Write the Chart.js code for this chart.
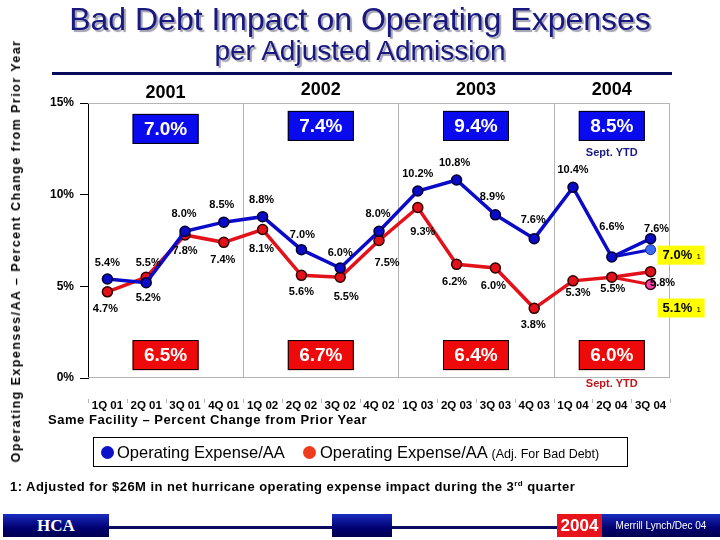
<!DOCTYPE html>
<html>
<head>
<meta charset="utf-8">
<script src="https://cdn.jsdelivr.net/npm/chart.js@4.4.1/dist/chart.umd.min.js"></script>
<style>
  body { margin: 0; background: #fff; }
  #wrap { position: relative; width: 720px; height: 540px; overflow: hidden; font-family: Arial, "Liberation Sans", sans-serif; }
  #chart { position: absolute; left: 0; top: 0; }
  .abs { position: absolute; white-space: nowrap; }
  #title { left: 0; width: 720px; top: 2px; text-align: center; font-size: 32px; line-height: 34px; color: #18187e; text-shadow: 2px 2px 1px #a0a0b0; }
  #subtitle { left: 0; width: 720px; top: 36px; text-align: center; font-size: 28px; line-height: 30px; color: #18187e; text-shadow: 2px 2px 1px #a0a0b0; }
  #rule { left: 52px; top: 72px; width: 620px; height: 3px; background: #0a0a5e; }
  #ytitle { left: 16px; top: 251px; transform: translate(-50%, -50%) rotate(-90deg); font-size: 12.5px; font-weight: bold; letter-spacing: 1.45px; }
  #facility { left: 48px; top: 412px; font-size: 13px; font-weight: bold; letter-spacing: 0.55px; }
  #legend { left: 93px; top: 437px; width: 533px; height: 28px; border: 1px solid #000; }
  .dot { position: absolute; top: 8px; width: 13px; height: 13px; border-radius: 50%; }
  .ltext { position: absolute; top: 5px; font-size: 16.5px; line-height: 18px; }
  #foot { left: 10px; top: 479px; font-size: 13px; font-weight: bold; letter-spacing: 0.45px; }
  #foot sup { font-size: 8px; }
  .bar { position: absolute; top: 514px; height: 23px; background: linear-gradient(#1a2cc0, #000070 60%, #000050); }
  .fline { position: absolute; top: 526px; height: 3px; background: #0a0a5e; }
</style>
</head>
<body>
<div id="wrap">
  <canvas id="chart" width="720" height="540"></canvas>
  <div class="abs" id="title">Bad Debt Impact on Operating Expenses</div>
  <div class="abs" id="subtitle">per Adjusted Admission</div>
  <div class="abs" id="rule"></div>
  <div class="abs" id="ytitle">Operating Expenses/AA – Percent Change from Prior Year</div>
  <div class="abs" id="facility">Same Facility – Percent Change from Prior Year</div>
  <div class="abs" id="legend">
    <div class="dot" style="left:7px;background:#0c10c8;"></div>
    <div class="ltext" style="left:23px;">Operating Expense/AA</div>
    <div class="dot" style="left:209px;background:#f03c1e;"></div>
    <div class="ltext" style="left:226px;">Operating Expense/AA <span style="font-size:12.5px;">(Adj. For Bad Debt)</span></div>
  </div>
  <div class="abs" id="foot">1: Adjusted for $26M in net hurricane operating expense impact during the 3<sup>rd</sup> quarter</div>
  <div class="bar" style="left:3px;width:106px;color:#fff;font:bold 17px 'Liberation Serif','Times New Roman',serif;text-align:center;line-height:23px;">HCA</div>
  <div class="fline" style="left:109px;width:223px;"></div>
  <div class="bar" style="left:332px;width:60px;"></div>
  <div class="fline" style="left:392px;width:165px;"></div>
  <div class="bar" style="left:557px;width:45px;background:#e8141c;color:#fff;font-weight:bold;font-size:17px;text-align:center;line-height:23px;">2004</div>
  <div class="bar" style="left:602px;width:118px;color:#fff;font-size:10px;text-align:center;line-height:23px;">Merrill Lynch/Dec 04</div>
</div>
<script>
const quarters = ["1Q 01", "2Q 01", "3Q 01", "4Q 01", "1Q 02", "2Q 02", "3Q 02", "4Q 02",
                  "1Q 03", "2Q 03", "3Q 03", "4Q 03", "1Q 04", "2Q 04", "3Q 04"];
const opexAA = [5.4, 5.2, 8.0, 8.5, 8.8, 7.0, 6.0, 8.0, 10.2, 10.8, 8.9, 7.6, 10.4, 6.6, 7.6];
const opexAdj = [4.7, 5.5, 7.8, 7.4, 8.1, 5.6, 5.5, 7.5, 9.3, 6.2, 6.0, 3.8, 5.3, 5.5, 5.8];
// hurricane-adjusted 3Q 04 (footnote 1)
const opexAAHurr = [null, null, null, null, null, null, null, null, null, null, null, null, null, 6.6, 7.0];
const opexAdjHurr = [null, null, null, null, null, null, null, null, null, null, null, null, null, 5.5, 5.1];
const yTicks = [0, 5, 10, 15];

const years = ["2001", "2002", "2003", "2004"];
const yearFirstQ = [0, 4, 8, 12];
const yearLastQ = [3, 7, 11, 14];
const yearOpexAA = [7.0, 7.4, 9.4, 8.5];
const yearOpexAdj = [6.5, 6.7, 6.4, 6.0];
const yearNote = ["", "", "", "Sept. YTD"];

// label placement relative to each point (dx, dy)
const opexAAOffsets = [[0,-16],[2,15],[-1,-17],[-2,-17],[-1,-17],[1,-15],[0,-15],[-1,-17],
                       [0,-17],[-2,-17],[-3,-18],[-1,-19],[0,-17],[0,-30],[6,-10]];
const opexAdjOffsets = [[-2,17],[2,-14],[0,16],[-1,18],[-1,19],[0,17],[6,20],[8,22],
                        [5,24],[-2,18],[-2,18],[-1,17],[5,12],[1,12],[12,11]];

const BLUE = "#0a0ac8";
const RED = "#e3121a";

const overlay = {
  id: "overlay",
  beforeDatasetsDraw(chart) {
    const { ctx, chartArea: a, scales: { x } } = chart;
    ctx.save();
    ctx.strokeStyle = "#b4b4b4";
    ctx.lineWidth = 1;
    ctx.beginPath();
    ctx.moveTo(a.left, a.top + 0.5); ctx.lineTo(a.right, a.top + 0.5);
    ctx.moveTo(a.left, a.bottom - 0.5); ctx.lineTo(a.right, a.bottom - 0.5);
    ctx.moveTo(a.right - 0.5, a.top); ctx.lineTo(a.right - 0.5, a.bottom);
    for (let i = 1; i < years.length; i++) {
      const bx = Math.round((x.getPixelForValue(yearLastQ[i - 1]) + x.getPixelForValue(yearFirstQ[i])) / 2) + 0.5;
      ctx.moveTo(bx, a.top); ctx.lineTo(bx, a.bottom);
    }
    // small ticks under the category labels
    for (let i = 0; i <= quarters.length; i++) {
      const bx = Math.round(a.left + (a.right - a.left) * i / quarters.length) + 0.5;
      ctx.moveTo(bx, a.bottom + 21); ctx.lineTo(bx, a.bottom + 25);
    }
    ctx.stroke();
    ctx.restore();
  },
  afterDatasetsDraw(chart) {
    const { ctx, chartArea: a, scales: { x, y } } = chart;
    ctx.save();
    ctx.textAlign = "center";
    ctx.textBaseline = "middle";

    // year headers and summary boxes
    years.forEach((yr, i) => {
      const cx = (x.getPixelForValue(yearFirstQ[i]) + x.getPixelForValue(yearLastQ[i])) / 2;
      const dy = i === 0 ? 3 : 0;
      ctx.fillStyle = "#000";
      ctx.font = "bold 18px Arial, 'Liberation Sans', sans-serif";
      ctx.fillText(yr, cx, a.top - 13 + dy);

      const bw = 66, bh = 30;
      let cy = y.getPixelForValue(13.75) + dy;
      ctx.fillStyle = "#0a0aee";
      ctx.fillRect(cx - bw / 2, cy - bh / 2, bw, bh);
      ctx.strokeStyle = "#000";
      ctx.lineWidth = 1;
      ctx.strokeRect(cx - bw / 2 + 0.5, cy - bh / 2 + 0.5, bw - 1, bh - 1);
      ctx.fillStyle = "#fff";
      ctx.font = "bold 19px Arial, 'Liberation Sans', sans-serif";
      ctx.fillText(yearOpexAA[i].toFixed(1) + "%", cx, cy + 1);

      cy = y.getPixelForValue(1.25);
      ctx.fillStyle = "#ee0a0a";
      ctx.fillRect(cx - bw / 2, cy - bh / 2, bw, bh);
      ctx.strokeRect(cx - bw / 2 + 0.5, cy - bh / 2 + 0.5, bw - 1, bh - 1);
      ctx.fillStyle = "#fff";
      ctx.fillText(yearOpexAdj[i].toFixed(1) + "%", cx, cy + 1);

      if (yearNote[i]) {
        ctx.font = "bold 11px Arial, 'Liberation Sans', sans-serif";
        ctx.fillStyle = "#1a1a80";
        ctx.fillText(yearNote[i], cx, y.getPixelForValue(12.3));
        ctx.fillStyle = "#c0161c";
        ctx.fillText(yearNote[i], cx, a.bottom + 6);
      }
    });

    // point labels
    ctx.font = "bold 11px Arial, 'Liberation Sans', sans-serif";
    ctx.fillStyle = "#000";
    const label = (dsIndex, values, offsets) => {
      const meta = chart.getDatasetMeta(dsIndex);
      values.forEach((v, i) => {
        if (v === null) return;
        const p = meta.data[i];
        ctx.fillText(v.toFixed(1) + "%", p.x + offsets[i][0], p.y + offsets[i][1]);
      });
    };
    label(0, opexAA, opexAAOffsets);
    label(1, opexAdj, opexAdjOffsets);

    // footnoted hurricane-adjusted values in yellow boxes
    const boxed = (dsIndex, values, dy) => {
      const meta = chart.getDatasetMeta(dsIndex);
      const i = values.length - 1;
      const p = meta.data[i];
      const left = p.x + 7, top = p.y + dy - 9;
      ctx.fillStyle = "#ffff00";
      ctx.fillRect(left, top, 47, 19);
      ctx.fillStyle = "#000";
      ctx.textAlign = "left";
      ctx.font = "bold 13px Arial, 'Liberation Sans', sans-serif";
      ctx.fillText(values[i].toFixed(1) + "%", left + 5, top + 10);
      ctx.font = "8px Arial, 'Liberation Sans', sans-serif";
      ctx.fillText("1", left + 39, top + 11);
      ctx.textAlign = "center";
    };
    boxed(2, opexAAHurr, 5);
    boxed(3, opexAdjHurr, 23);
    ctx.restore();
  }
};

new Chart(document.getElementById("chart"), {
  type: "line",
  data: {
    labels: quarters,
    datasets: [
      {
        label: "Operating Expense/AA",
        data: opexAA,
        borderColor: BLUE,
        backgroundColor: BLUE,
        pointBorderColor: "#000030",
        borderWidth: 3.5,
        pointRadius: 5,
        pointBorderWidth: 1.5,
        tension: 0,
      },
      {
        label: "Operating Expense/AA (Adj. For Bad Debt)",
        data: opexAdj,
        borderColor: RED,
        backgroundColor: RED,
        pointBorderColor: "#300000",
        borderWidth: 3.5,
        pointRadius: 5,
        pointBorderWidth: 1.5,
        tension: 0,
      },
      {
        label: "Operating Expense/AA (hurricane adj.)",
        data: opexAAHurr,
        borderColor: BLUE,
        backgroundColor: "#3a6cf0",
        pointBorderColor: "#1a2aa0",
        borderWidth: 3,
        pointRadius: [0, 0, 0, 0, 0, 0, 0, 0, 0, 0, 0, 0, 0, 0, 5],
        pointBorderWidth: 1,
        tension: 0,
      },
      {
        label: "Operating Expense/AA Adj. (hurricane adj.)",
        data: opexAdjHurr,
        borderColor: RED,
        backgroundColor: "#ff3fa8",
        pointBorderColor: "#300010",
        borderWidth: 3,
        pointRadius: [0, 0, 0, 0, 0, 0, 0, 0, 0, 0, 0, 0, 0, 0, 5],
        pointBorderWidth: 1.5,
        tension: 0,
      },
    ],
  },
  options: {
    responsive: false,
    animation: false,
    layout: { padding: { top: 103, right: 50, bottom: 0, left: 0 } },
    plugins: {
      legend: { display: false },
      tooltip: { enabled: false },
    },
    scales: {
      x: {
        offset: true,
        grid: { display: false },
        border: { display: false },
        ticks: {
          color: "#000",
          font: { family: "Arial, 'Liberation Sans', sans-serif", size: 11.5, weight: "bold" },
          padding: 13,
          maxRotation: 0,
          autoSkip: false,
        },
        afterFit: (s) => { s.height = 162; },
      },
      y: {
        min: 0,
        max: 15,
        afterBuildTicks: (s) => { s.ticks = yTicks.map((v) => ({ value: v })); },
        grid: { drawOnChartArea: false, drawTicks: true, tickLength: 8, tickColor: "#000" },
        border: { display: true, color: "#000", width: 1 },
        ticks: {
          color: "#000",
          padding: 6,
          font: { family: "Arial, 'Liberation Sans', sans-serif", size: 12, weight: "bold" },
          callback: (v) => v + "%",
        },
        afterFit: (s) => { s.width = 88; },
      },
    },
  },
  plugins: [overlay],
});
</script>
</body>
</html>
